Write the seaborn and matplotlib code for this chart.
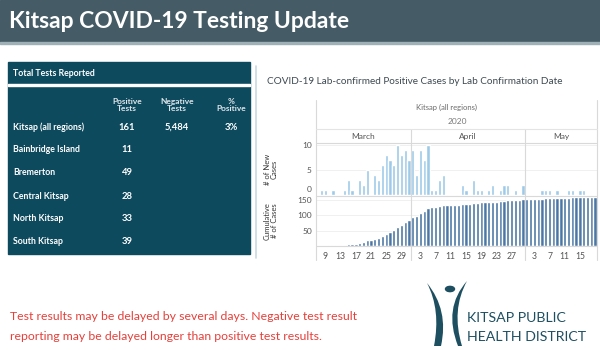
import matplotlib
matplotlib.use("Agg")
import matplotlib.pyplot as plt
from matplotlib.patches import Rectangle, Circle, PathPatch
from matplotlib.path import Path
from matplotlib.lines import Line2D
from matplotlib.transforms import ScaledTranslation
import numpy as np
import pandas as pd
import seaborn as sns

# ---------------- data ----------------
start_date = "2020-03-07"
new_cases = [0, 1, 1, 0, 1, 0, 0, 1, 3, 1, 0, 3, 2, 5, 0, 4, 3, 6, 8, 7, 6, 10, 8, 9, 7,
             9, 4, 9, 7, 10, 1, 1, 3, 4, 0, 0, 0, 0, 2, 1, 0, 3, 1, 1, 0, 1, 2, 0, 1, 2, 2, 0, 1, 0, 2,
             0, 0, 0, 0, 1, 1, 1, 0, 1, 0, 0, 1, 1, 0, 1, 1, 0, 0, 0]
tick_dates = ["2020-03-09", "2020-03-13", "2020-03-17", "2020-03-21", "2020-03-25", "2020-03-29",
              "2020-04-03", "2020-04-07", "2020-04-11", "2020-04-15", "2020-04-19", "2020-04-23",
              "2020-04-27", "2020-05-03", "2020-05-07", "2020-05-11", "2020-05-15"]
months = ["March", "April", "May"]

regions = ["Kitsap (all regions)", "Bainbridge Island", "Bremerton", "Central Kitsap",
           "North Kitsap", "South Kitsap"]
positive_tests = ["161", "11", "49", "28", "33", "39"]
negative_tests = ["5,484", "", "", "", "", ""]
pct_positive = ["3%", "", "", "", "", ""]

dates = pd.date_range(start_date, periods=len(new_cases), freq="D")
df = pd.DataFrame({"date": dates, "new": new_cases})
df["cum"] = df["new"].cumsum()
df["pos"] = np.arange(len(df))

# ---------------- figure ----------------
sns.set_theme(style="white")
plt.rcParams["font.family"] = ["Lato", "DejaVu Sans"]

W, H = 600, 350
fig = plt.figure(figsize=(6, 3.5), dpi=100)


def rect(x0, y0, x1, y1):
    return [x0 / W, 1 - y1 / H, (x1 - x0) / W, (y1 - y0) / H]


def fx(x):
    return x / W


def fy(y):
    return 1 - y / H


def box(x0, y0, x1, y1, color):
    fig.patches.append(Rectangle((fx(x0), fy(y1)), (x1 - x0) / W, (y1 - y0) / H,
                                 transform=fig.transFigure, color=color, zorder=0))


def hline(y, x0, x1, color="#d9d9d9", lw=0.8):
    fig.lines.append(Line2D([fx(x0), fx(x1)], [fy(y), fy(y)], transform=fig.transFigure,
                            color=color, lw=lw, zorder=5))


def vline(x, y0, y1, color="#d9d9d9", lw=0.8):
    fig.lines.append(Line2D([fx(x), fx(x)], [fy(y0), fy(y1)], transform=fig.transFigure,
                            color=color, lw=lw, zorder=5))


# header band
box(0, 0, 600, 42, "#455c66")
box(0, 42, 600, 44, "#9fb0b6")
fig.text(fx(9), fy(22), "Kitsap COVID-19 Testing Update", color="white", fontsize=16.5,
         fontweight="bold", va="center", ha="left")

# table panel
tbl_bg = "#0e4a5e"
box(8, 62, 250, 254, tbl_bg)
box(8, 83.5, 250, 85.5, "white")
fig.text(fx(13), fy(73), "Total Tests Reported", color="white", fontsize=6.3,
         fontweight="bold", va="center")
col_x = [127, 177, 231]
col_heads = ["Positive\nTests", "Negative\nTests", "%\nPositive"]
for cx, h in zip(col_x, col_heads):
    fig.text(fx(cx), fy(105), h, color="#dfe6ea", fontsize=6, fontweight="bold",
             ha="center", va="center", linespacing=1.1)
row_y = [127, 150, 173, 196, 219, 242]
for ry, reg, p, n_, pc in zip(row_y, regions, positive_tests, negative_tests, pct_positive):
    fig.text(fx(13), fy(ry), reg, color="white", fontsize=6.3, fontweight="bold", va="center")
    for cx, val in zip(col_x, [p, n_, pc]):
        if val:
            fig.text(fx(cx), fy(ry), val, color="white", fontsize=6.8, fontweight="bold",
                     ha="center", va="center")

# light frame line at left of chart region
vline(255.5, 66, 258, color="#c9d9e2", lw=1.2)

# chart title
fig.text(fx(267), fy(81), "COVID-19 Lab-confirmed Positive Cases by Lab Confirmation Date",
         color="#3e4a52", fontsize=7.2, va="center", ha="left")

PL, PR = 316, 597
fig.text(fx(447), fy(107), "Kitsap (all regions)", color="#6a6a6a", fontsize=5.5,
         ha="center", va="center")
fig.text(fx(457), fy(122), "2020", color="#7a7a7a", fontsize=6, ha="center", va="center")

light = "#9ecae9"
dark = "#4b77a5"
n = len(df)

ax1 = fig.add_axes(rect(PL, 143, PR, 195))
sns.barplot(data=df, x="pos", y="new", color=light, width=0.86, saturation=1,
            ax=ax1, native_scale=True)
ax1.set_xlim(-0.5, n - 0.5)
ax1.set_ylim(0, 10.4)
ax1.set_yticks([0, 5, 10])
ax1.set_xticks([])
ax1.set_xlabel("")
ax1.set_ylabel("# of New\nCases", fontsize=5.5, color="#333333", linespacing=1.0)
ax1.yaxis.set_label_coords(-0.135, 0.5)
ax1.grid(axis="y", color="#eeeeee", lw=0.6)
ax1.set_axisbelow(True)

ax2 = fig.add_axes(rect(PL, 196, PR, 246))
sns.barplot(data=df, x="pos", y="cum", color=dark, width=0.86, saturation=1,
            ax=ax2, native_scale=True)
ax2.set_xlim(-0.5, n - 0.5)
ax2.set_ylim(0, 163)
ax2.set_yticks([50, 100, 150])
tick_pos = [int((pd.Timestamp(d) - dates[0]).days) for d in tick_dates]
ax2.set_xticks(tick_pos)
ax2.set_xticklabels([str(pd.Timestamp(d).day) for d in tick_dates])
ax2.set_xlabel("")
ax2.set_ylabel("Cumulative\n# of Cases", fontsize=5.5, color="#333333", linespacing=1.0)
ax2.yaxis.set_label_coords(-0.135, 0.5)
ax2.grid(axis="y", color="#eeeeee", lw=0.6)
ax2.set_axisbelow(True)

for ax in (ax1, ax2):
    for s in ax.spines.values():
        s.set_visible(False)
    ax.tick_params(axis="both", length=0, labelsize=6, colors="#555555", pad=3)
    ax.patch.set_alpha(0)
ax2.tick_params(axis="x", pad=4, labelsize=6.2)

# lift the "0" label of the top panel a little, as in the reference
fig.canvas.draw()
lab0 = ax1.get_yticklabels()[0]
lab0.set_transform(lab0.get_transform() + ScaledTranslation(0, 4 / 72, fig.dpi_scale_trans))

# chart frame lines
px_per = (PR - PL) / n
month_idx = df["date"].dt.month.values
bounds = [0] + [i for i in range(1, n) if month_idx[i] != month_idx[i - 1]] + [n]
vline(PL, 100, 260)
vline(PR, 100, 260)
for b in bounds[1:-1]:
    vline(PL + b * px_per, 129, 260)
hline(129, PL, PR, color="#e4e4e4")
hline(143, PL, PR)
hline(195.5, PL, PR)
hline(246, PL, PR)
for i, m in enumerate(months):
    cx = PL + (bounds[i] + bounds[i + 1]) / 2 * px_per
    fig.text(fx(cx), fy(136.5), m, color="#555555", fontsize=6, ha="center", va="center")

# footer note
red = "#e5403a"
fig.text(fx(10), fy(317), "Test results may be delayed by several days. Negative test result",
         color=red, fontsize=8.8, va="center")
fig.text(fx(10), fy(336), "reporting may be delayed longer than positive test results.",
         color=red, fontsize=8.8, va="center")

# logo
logo = "#1d4f61"
fig.text(fx(467), fy(318), "KITSAP PUBLIC", color=logo, fontsize=10.2, va="center")
fig.text(fx(467), fy(337), "HEALTH DISTRICT", color=logo, fontsize=10.2, va="center")


def P(x, y):
    return (fx(x), fy(y))


left_stroke = Path([P(427, 283), P(441, 310), P(434, 346), P(441, 346), P(449, 310),
                    P(427, 283), P(427, 283)],
                   [Path.MOVETO, Path.CURVE3, Path.CURVE3, Path.LINETO, Path.CURVE3,
                    Path.CURVE3, Path.CLOSEPOLY])
fig.patches.append(PathPatch(left_stroke, transform=fig.transFigure, color=logo, lw=0))
right_stroke = Path([P(467, 281), P(443, 308), P(458, 346), P(462, 346), P(451, 310),
                     P(467, 281), P(467, 281)],
                    [Path.MOVETO, Path.CURVE3, Path.CURVE3, Path.LINETO, Path.CURVE3,
                     Path.CURVE3, Path.CLOSEPOLY])
fig.patches.append(PathPatch(right_stroke, transform=fig.transFigure, color=logo, lw=0))
fig.patches.append(Circle(P(450, 289), 4.5 / W, transform=fig.transFigure, color=logo))

fig.savefig("out.png", dpi=100)
